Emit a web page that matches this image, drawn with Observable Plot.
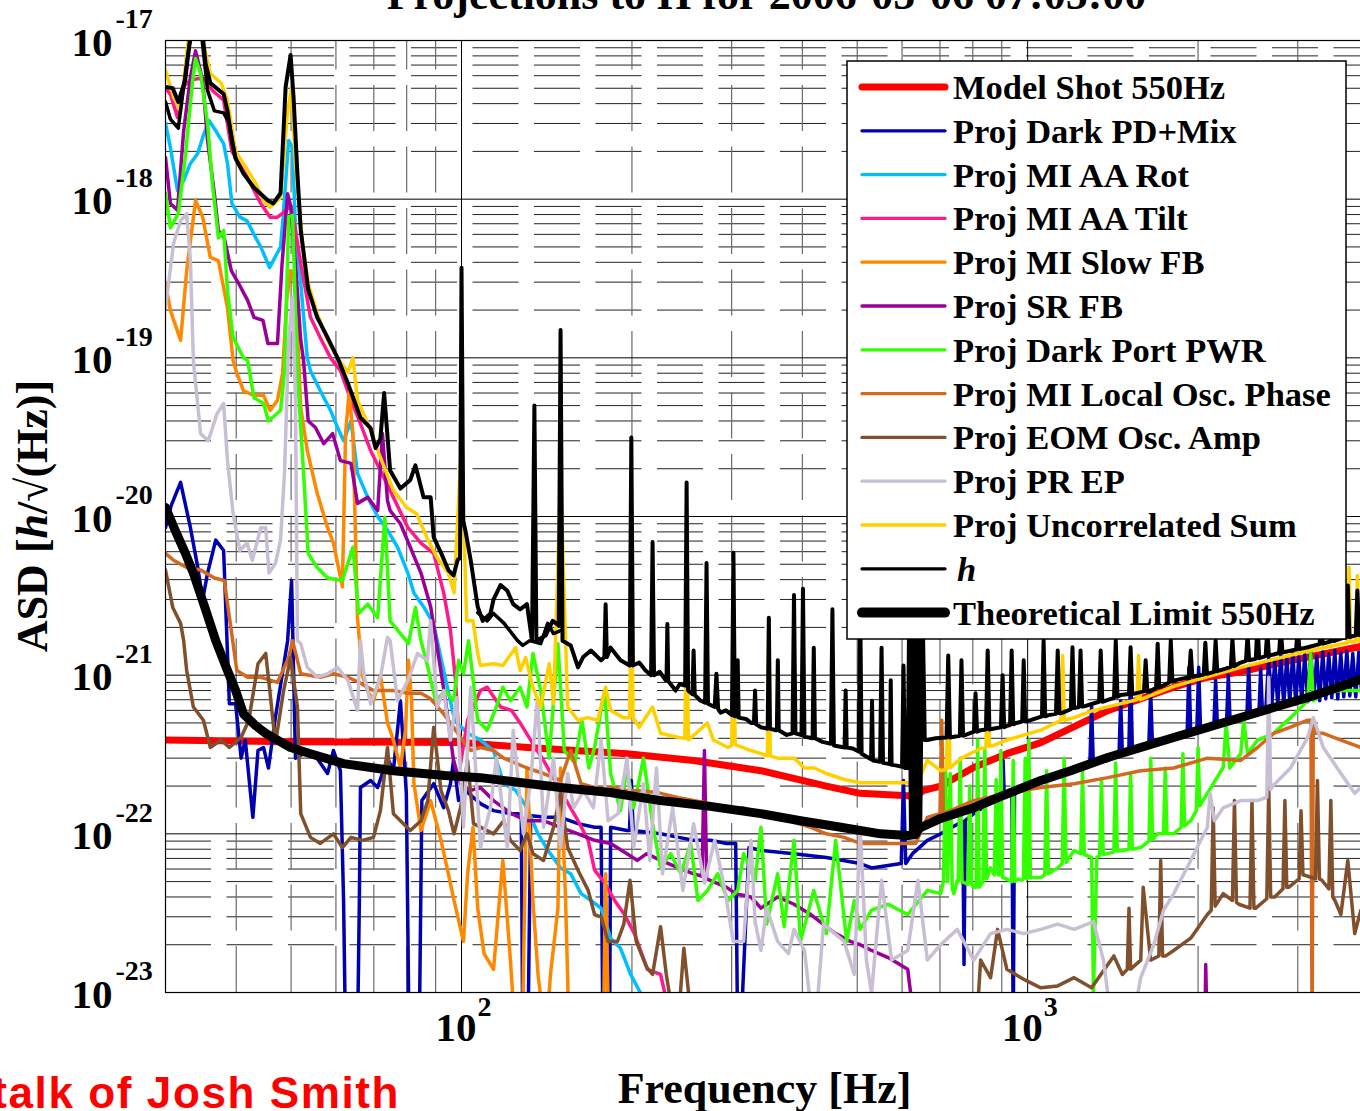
<!DOCTYPE html>
<html>
<head>
<meta charset="utf-8">
<script src="https://cdn.jsdelivr.net/npm/d3@7"></script>
<script src="https://cdn.jsdelivr.net/npm/@observablehq/plot@0.6"></script>
<style>
  html, body { margin: 0; padding: 0; background: #fff; overflow: hidden; }
  #chart svg { display: block; max-width: none; }
</style>
</head>
<body>
<div id="chart"></div>
<script>
// ---- Amplitude spectral densities, [frequency in Hz, ASD in h/sqrt(Hz)] ----

const modelShot = [[30,3.9e-22],[52,3.8e-22],[100,3.76e-22],[131,3.5e-22],[196,3.2e-22],[257,2.9e-22],[338,2.5e-22],[441,2.0e-22],[506,1.8e-22],[614,1.74e-22],[634,1.72e-22],[653,1.87e-22],[702,2.0e-22],[803,2.62e-22],[919,3.2e-22],[1055,3.76e-22],[1208,4.74e-22],[1385,5.98e-22],[1584,7.1e-22],[1811,8.4e-22],[2077,9.7e-22],[2379,1.05e-21],[2720,1.17e-21],[3124,1.3e-21],[3575,1.43e-21],[4000,1.55e-21]];

const darkPdMix = [[30,8.5e-21],[30.7,1.17e-20],[31.9,1.64e-20],[33.2,8.5e-21],[34.2,4.8e-21],[34.9,3.0e-21],[35.6,4.4e-21],[36.8,7.1e-21],[38.0,6.1e-21],[38.9,6.6e-22],[39.9,6.6e-22],[40.8,3.0e-22],[41.5,3.9e-22],[42.8,1.27e-22],[43.7,3.35e-22],[44.7,3.5e-22],[45.6,2.6e-22],[46.9,5.4e-22],[49.3,1.65e-21],[50.1,3.95e-21],[50.9,3.0e-22],[52.6,3.2e-22],[55.2,3.1e-22],[58.0,2.4e-22],[59.4,3.35e-22],[61.1,2.5e-22],[61.9,3.8e-23],[62.4,5e-24],[65.5,5e-24],[66.0,3.8e-23],[66.3,1.96e-22],[69.1,2.17e-22],[71.1,1.96e-22],[74.0,3.0e-22],[75.8,2.5e-22],[78.0,6.9e-22],[79.9,1.79e-22],[80.8,5e-24],[84.2,5e-24],[85.1,1.62e-22],[89.3,2.07e-22],[93.0,1.46e-22],[95.6,2.07e-22],[96.8,2.9e-22],[98.8,1.62e-22],[101.7,1.87e-22],[108,1.55e-22],[113.9,1.4e-22],[122.5,1.34e-22],[127.5,1.34e-22],[128.3,5e-24],[131,5e-24],[132.5,1.3e-22],[141.3,1.27e-22],[149.6,1.27e-22],[160.6,1.16e-22],[171.8,1.1e-22],[176.4,1.1e-22],[177.8,5e-24],[182.6,5e-24],[183.4,1.1e-22],[196,1.05e-22],[198,1.05e-22],[199.5,2.17e-22],[201,1.05e-22],[224.7,1.0e-22],[241.8,9.5e-23],[257,9.1e-23],[275,9.1e-23],[294,8.7e-23],[305,8.7e-23],[307.5,5e-24],[311,5e-24],[322,8.2e-23],[338,7.85e-23],[386.6,7.5e-23],[441,7.1e-23],[506,6.5e-23],[530,6.1e-23],[598,6.5e-23],[603.5,2.17e-22],[609,6.5e-23],[626,7.5e-23],[665,9.1e-23],[702,1.0e-22],[768,1.2e-22],[772,1.5e-23],[776,1.21e-22],[803,1.34e-22],[897,1.74e-22],[901,1.75e-22],[905,2.9e-22],[909,1.76e-22],[938,1.8e-22],[943,5e-24],[948,1.82e-22],[1055,2.17e-22],[1208,2.62e-22],[1288,2.75e-22],[1297,6.4e-22],[1306,2.78e-22],[1385,2.9e-22],[1450,3.1e-22],[1460,6.9e-22],[1470,3.15e-22],[1509,3.3e-22],[1520,1.07e-21],[1531,3.35e-22],[1584,3.5e-22],[1637,3.6e-22],[1649,8.0e-22],[1661,3.65e-22],[1811,4.05e-22],[1913,4.3e-22],[1927,1.12e-21],[1941,4.35e-22],[1990,4.5e-22],[2005,1.12e-21],[2020,4.55e-22],[2077,4.7e-22],[2133,4.85e-22],[2148,9.3e-22],[2163,4.9e-22],[2246,5.1e-22],[2262,1.0e-21],[2278,5.15e-22],[2379,5.4e-22],[2440,5.6e-22],[2457,1.15e-21],[2474,5.65e-22],[2562,5.8e-22],[2580,1.1e-21],[2598,5.9e-22],[2634,6.0e-22],[2666,1.3e-21],[2699,6.3e-22],[2732,1.24e-21],[2766,6.5e-22],[2800,1.35e-21],[2834,6.4e-22],[2869,1.3e-21],[2904,6.7e-22],[2940,1.38e-21],[2976,6.6e-22],[3012,1.3e-21],[3049,6.9e-22],[3087,1.35e-21],[3124,6.8e-22],[3163,1.42e-21],[3201,7.0e-22],[3241,1.33e-21],[3280,6.9e-22],[3321,1.4e-21],[3362,7.1e-22],[3403,1.36e-21],[3445,7.2e-22],[3487,1.43e-21],[3530,7.1e-22],[3573,1.38e-21],[3617,7.3e-22],[3662,1.42e-21],[3707,7.4e-22],[3752,1.37e-21],[3798,7.3e-22],[3845,1.4e-21],[3892,7.5e-22],[3940,1.38e-21],[3988,7.6e-22],[4000,7.6e-22]];

const miAaRot = [[30,3.0e-18],[30.6,2.12e-18],[31.5,1.13e-18],[32.3,1.31e-18],[33.2,1.68e-18],[34.2,1.94e-18],[34.9,2.45e-18],[35.8,3.13e-18],[36.8,2.7e-18],[38.0,2.24e-18],[38.6,1.68e-18],[39.3,9.4e-19],[40.6,7.7e-19],[41.8,7.3e-19],[43.3,5.7e-19],[44.2,5.0e-19],[45.8,3.7e-19],[46.5,4.1e-19],[47.9,5.0e-19],[48.4,7.7e-19],[49.5,2.34e-18],[50.3,2.12e-18],[50.9,6.35e-19],[52.0,2.94e-19],[53.4,1.0e-19],[54.1,8.3e-20],[56.3,6.2e-20],[58.7,4.66e-20],[60.4,3.64e-20],[61.9,3.0e-20],[63.8,4.0e-20],[65.5,1.87e-20],[68.3,1.32e-20],[71.1,1.0e-20],[74.0,8.2e-21],[77.1,6.4e-21],[80.4,4.4e-21],[82.4,3.3e-21],[85.7,2.7e-21],[89.3,2.1e-21],[93.0,1.07e-21],[97.2,5.2e-22],[102.5,4.3e-22],[108,3.9e-22],[113.9,3.35e-22],[118.7,2.07e-22],[124.6,1.88e-22],[130.5,1.46e-22],[136.5,1.0e-22],[142.2,7.85e-23],[149.6,6.1e-23],[155.9,5.6e-23],[162.6,4.2e-23],[169.3,3.8e-23],[176.4,3.4e-23],[183.4,2.2e-23],[190.9,1.9e-23],[198.9,1.3e-23],[207.2,9.9e-24],[215,7.7e-24]];

const miAaTilt = [[30,5.0e-18],[30.6,4.6e-18],[31.5,3.27e-18],[32.4,5.2e-18],[33.2,5.6e-18],[34.2,5.75e-18],[35.1,5.75e-18],[36.3,4.85e-18],[38.0,4.2e-18],[39.3,2.0e-18],[41.5,1.45e-18],[44.2,9.4e-19],[45.9,7.7e-19],[47.3,7.7e-19],[48.4,8.2e-19],[49.9,9.1e-19],[50.9,6.35e-19],[52.0,3.93e-19],[54.1,1.8e-19],[56.3,1.34e-19],[58.7,1.0e-19],[61.1,8.3e-20],[63.8,5.4e-20],[66.3,3.85e-20],[69.1,2.6e-20],[71.9,1.95e-20],[75.8,1.32e-20],[80.4,8.5e-21],[84.8,6.8e-21],[89.3,5.85e-21],[93.0,3.3e-21],[95.6,1.91e-21],[97.6,9.25e-22],[99.6,2.77e-22],[102.5,5.2e-22],[108,8.0e-22],[111,8.4e-22],[117.2,6.3e-22],[122.5,6.0e-22],[126.9,5.0e-22],[132.5,3.9e-22],[139.6,2.9e-22],[149.6,1.87e-22],[160.6,1.21e-22],[167.4,9.1e-23],[171.8,5.9e-23],[179,4.9e-23],[186.4,3.8e-23],[194,3.1e-23],[202,2.35e-23],[213,1.4e-23],[224.7,1.3e-23],[230,9e-24]];

const miSlowFb = [[30,2.94e-19],[30.6,1.99e-19],[31.9,1.29e-19],[32.7,3.55e-19],[33.9,9.8e-19],[34.9,7.7e-19],[36.0,4.29e-19],[37.2,4.1e-19],[38.6,2.07e-19],[39.5,9.6e-20],[40.1,8.0e-20],[41.2,6.2e-20],[42.9,5.8e-20],[44.7,5.8e-20],[45.9,4.66e-20],[47.3,5.4e-20],[48.3,8.0e-20],[49.1,2.3e-19],[49.9,3.55e-19],[50.5,3.4e-19],[51.3,1.49e-19],[52.0,4.86e-20],[53.4,2.6e-20],[55.6,1.4e-20],[58.0,8.5e-21],[59.4,6.8e-21],[61.6,3.6e-21],[62.4,3.33e-20],[63.3,6.05e-20],[64.3,3.33e-20],[65.5,2.31e-21],[66.8,1.0e-21],[68.2,8.0e-22],[69.9,6.9e-22],[71.9,1.0e-21],[74.0,5.0e-22],[75.8,3.9e-22],[78.0,2.6e-22],[79.6,4.5e-22],[80.6,1.24e-21],[81.6,6.9e-22],[82.4,2.07e-22],[84.8,1.05e-22],[88.2,1.62e-22],[92.0,9.1e-23],[94.8,5.6e-23],[97.0,3.8e-23],[100.8,2.1e-23],[102.5,5.6e-23],[104.8,1.1e-22],[106.8,3.4e-23],[109.6,1.76e-23],[113.9,1.4e-23],[118.3,6.8e-23],[122,1.6e-23],[124.6,5e-24],[128,5e-24],[130.5,2.6e-22],[133.7,3.8e-23],[136.5,1.3e-23],[140.8,5e-24],[143.6,1.3e-23],[148,3.4e-23],[149.6,2.6e-22],[152.7,3.8e-23],[155,5e-24],[178,5e-24],[179.7,5.6e-23],[182,5e-24]];

const srFb = [[30,1.83e-18],[30.6,9.4e-19],[31.5,8.5e-19],[32.3,2.7e-18],[33.2,5.85e-18],[33.9,8.6e-18],[34.9,5.6e-18],[35.6,2.34e-18],[36.6,1.08e-18],[37.2,6.35e-19],[38.1,5.7e-19],[39.2,3.55e-19],[40.4,2.94e-19],[41.9,2.3e-19],[43.0,1.8e-19],[44.6,1.72e-19],[45.5,1.23e-19],[47.3,1.23e-19],[48.2,3.93e-19],[49.3,1.08e-18],[49.9,9.1e-19],[50.9,3.93e-19],[52.0,1.29e-19],[52.6,9.6e-20],[53.6,4.0e-20],[55.2,3.64e-20],[57.1,2.88e-20],[59.2,3.33e-20],[61.1,2.25e-20],[63.8,2.16e-20],[65.5,1.21e-20],[68.3,1.32e-20],[71.1,1.09e-20],[72.5,3.33e-20],[74.0,1.26e-20],[74.8,1.09e-20],[78.0,9.0e-21],[81.2,6.4e-21],[84.8,4.4e-21],[88.2,2.7e-21],[90.6,1.49e-21],[93.7,6.9e-22],[96.8,2.9e-22],[99.6,2.07e-22],[103.8,1.88e-22],[108,1.96e-22],[113.9,1.62e-22],[122.5,1.34e-22],[130.5,1.21e-22],[139.6,1.21e-22],[149.6,1.1e-22],[160.6,1.0e-22],[171.8,9.1e-23],[183.4,8.7e-23],[196,7.5e-23],[204.4,6.8e-23],[212.4,7.5e-23],[224.7,6.8e-23],[241.8,6.1e-23],[257,5.6e-23],[266,5.4e-23],[268.6,3.35e-22],[271,5.2e-23],[294,4.6e-23],[305,4.2e-23],[324.5,4.0e-23],[338,3.4e-23],[361.7,4.0e-23],[386.6,3.6e-23],[414,3.1e-23],[441,2.6e-23],[458,2.35e-23],[486,2.1e-23],[506,2.0e-23],[530,1.84e-23],[567,1.66e-23],[614,1.4e-23],[636,5e-24],[2055,5e-24],[2063,1.5e-23],[2077,5e-24]];

const darkPortPwr = [[30,1.09e-18],[30.6,6.6e-19],[31.6,8.1e-19],[32.5,1.83e-18],[33.5,5.6e-18],[33.9,7.7e-18],[34.6,6.2e-18],[35.6,3.0e-18],[36.3,1.26e-18],[37.2,5.7e-19],[38.0,6.35e-19],[38.6,2.65e-19],[39.5,1.34e-19],[41.2,1.0e-19],[41.9,9.6e-20],[43.0,5.6e-20],[44.7,5.15e-20],[45.6,4.0e-20],[47.9,4.66e-20],[48.7,8.3e-20],[49.5,7.7e-19],[50.3,7.9e-19],[51.3,8.0e-20],[52.6,1.87e-20],[53.6,5.85e-21],[55.6,4.77e-21],[58.0,4.1e-21],[61.6,3.95e-21],[64.3,6.4e-21],[65.8,2.45e-21],[68.3,2.8e-21],[71.1,2.3e-21],[73.2,9.9e-21],[74.8,2.2e-21],[78.0,1.83e-21],[80.6,1.58e-21],[82.9,2.67e-21],[84.8,1.65e-21],[87.2,1.12e-21],[90.0,6.9e-22],[93.7,8.0e-22],[96.8,6.9e-22],[98.8,1.24e-21],[100.8,1.02e-21],[102.9,1.65e-21],[106.8,5.2e-22],[111,4.5e-22],[115.2,6.3e-22],[118.3,8.4e-22],[122,6.9e-22],[126.9,8.4e-22],[130.5,6.3e-22],[133.7,1.37e-21],[138,8.0e-22],[142.8,3.0e-22],[148,1.58e-21],[151.9,3.35e-22],[158.5,2.8e-22],[163.2,5.2e-22],[167.9,2.6e-22],[171.8,3.5e-22],[178.9,8.0e-22],[183.4,2.4e-22],[190.9,1.4e-22],[196,2.6e-22],[201.4,1.46e-22],[209.6,3.0e-22],[217.5,1.16e-22],[224.7,6.1e-23],[234,7.5e-23],[244,5.6e-23],[254,8.7e-23],[261.6,3.8e-23],[272,4.4e-23],[283.5,5.6e-23],[295.6,3.8e-23],[307.5,4.4e-23],[315,7.5e-23],[330,5.1e-23],[338,1.1e-22],[346,2.7e-23],[361.7,5.6e-23],[371.5,2.6e-23],[386.6,9.1e-23],[397,2.1e-23],[419,4.4e-23],[441,2.35e-23],[458,9.1e-23],[479,2.1e-23],[494,3.8e-23],[506,2.5e-23],[530,3.3e-23],[567,3.6e-23],[614,3.1e-23],[665,4.4e-23],[702,4.2e-23],[710,5e-23],[716,2.5e-22],[722,5e-23],[730,2.4e-22],[736,4.5e-23],[741,4.2e-23],[751,5.1e-23],[754,5e-23],[760,3.0e-22],[766,5e-23],[784,4.8e-23],[790,2.0e-22],[796,4.8e-23],[803,4.6e-23],[811,4.6e-23],[816,3.9e-22],[821,4.6e-23],[834,5e-23],[840,3.5e-22],[846,5.2e-23],[860,6.1e-23],[873,5.5e-23],[880,2.2e-22],[887,5.5e-23],[891,5.5e-23],[897,3.35e-22],[903,5.3e-23],[907,5.3e-23],[937,5.0e-23],[943,2.9e-22],[949,5.0e-23],[960,5.2e-23],[977,5.1e-23],[983,5.2e-23],[990,3.0e-22],[997,5.2e-23],[999,5.3e-23],[1005,3.9e-22],[1011,5.3e-23],[1033,5.3e-23],[1055,5.3e-23],[1072,5.5e-23],[1080,2.5e-22],[1088,5.6e-23],[1130,6.1e-23],[1151,6.5e-23],[1160,3.0e-22],[1169,6.6e-23],[1208,7.85e-23],[1241,7.5e-23],[1250,2.5e-22],[1259,7.4e-23],[1297,7.1e-23],[1307,1.0e-23],[1325,7.1e-23],[1340,7.3e-23],[1350,2.2e-22],[1360,7.4e-23],[1385,7.5e-23],[1420,7.7e-23],[1430,2.8e-22],[1440,7.8e-23],[1470,7.85e-23],[1510,8.0e-23],[1520,2.4e-22],[1530,8.0e-23],[1584,8.2e-23],[1638,9.0e-23],[1650,3.0e-22],[1662,9.2e-23],[1697,1.0e-22],[1738,1.0e-22],[1750,2.6e-22],[1762,1.0e-22],[1811,1.0e-22],[1867,1.1e-22],[1880,3.2e-22],[1893,1.12e-22],[1941,1.21e-22],[1986,1.4e-22],[2000,3.5e-22],[2014,1.5e-22],[2077,1.8e-22],[2215,2.62e-22],[2242,5.0e-22],[2275,2.6e-22],[2379,3.2e-22],[2408,5.2e-22],[2447,3.2e-22],[2547,3.9e-22],[2720,4.3e-22],[2913,5.4e-22],[3124,6.9e-22],[3163,1.37e-21],[3196,6.9e-22],[3328,7.7e-22],[3575,8.0e-22],[4000,8.0e-22]];

const miLocalOscPhase = [[30,5.85e-21],[31.0,5.3e-21],[32.7,4.77e-21],[34.6,4.6e-21],[36.6,4.1e-21],[38.1,3.95e-21],[39.2,1.91e-21],[40.1,1.07e-21],[41.9,9.7e-22],[44.2,9.7e-22],[47.3,9.0e-22],[49.5,1.29e-21],[50.3,1.65e-21],[52.0,1.02e-21],[56.3,9.7e-22],[59.4,1.02e-21],[63.0,9.7e-22],[66.3,8.9e-22],[69.9,8.0e-22],[75.8,8.0e-22],[80.4,7.7e-22],[84.8,7.7e-22],[88.2,7.1e-22],[93.0,5.7e-22],[96.8,4.7e-22],[99.6,4.05e-22],[103.8,3.35e-22],[108,3.5e-22],[113.9,3.35e-22],[118.7,3.0e-22],[130.5,2.6e-22],[139.6,2.4e-22],[149.6,2.17e-22],[155.9,3.35e-22],[162.6,2.07e-22],[171.8,1.96e-22],[183.4,1.96e-22],[196,1.87e-22],[209.6,1.87e-22],[224.7,1.8e-22],[241.8,1.69e-22],[257,1.62e-22],[275,1.55e-22],[294,1.4e-22],[314,1.46e-22],[338,1.34e-22],[361.7,1.27e-22],[386.6,1.18e-22],[414,1.1e-22],[441,1.0e-22],[474,9.5e-23],[506,8.7e-23],[530,8.7e-23],[614,8.7e-23],[634,8.7e-23],[665,1.27e-22],[700,1.34e-22],[705,5.2e-22],[710,1.34e-22],[803,1.62e-22],[919,1.8e-22],[1055,1.96e-22],[1208,2.07e-22],[1385,2.26e-22],[1584,2.5e-22],[1811,2.6e-22],[2077,3.0e-22],[2379,2.9e-22],[2547,3.5e-22],[2720,4.3e-22],[2913,4.7e-22],[3124,5.2e-22],[3165,5.2e-22],[3180,5e-24],[3195,5.0e-22],[3228,4.3e-22],[3328,4.3e-22],[3575,3.9e-22],[3877,3.5e-22],[4000,3.5e-22]];

const eomOscAmp = [[30,4.6e-21],[30.9,2.67e-21],[31.9,2.12e-21],[32.3,1.65e-21],[32.7,1.07e-21],[33.6,6.3e-22],[35.0,5.2e-22],[36.0,3.5e-22],[37.6,3.9e-22],[38.9,3.5e-22],[40.8,4.05e-22],[42.1,5.2e-22],[43.7,1.18e-21],[45.1,1.37e-21],[45.9,7.7e-22],[46.9,3.7e-22],[48.5,8.0e-22],[49.9,1.29e-21],[51.3,6.3e-22],[52.0,1.34e-22],[54.1,9.5e-23],[56.3,8.7e-23],[59.4,1.0e-22],[61.6,8.2e-23],[63.8,9.5e-23],[66.8,9.1e-23],[69.9,9.5e-23],[71.9,1.4e-22],[74.0,3.5e-22],[75.8,1.34e-22],[78.0,1.21e-22],[81.2,1.05e-22],[84.8,1.21e-22],[87.2,1.62e-22],[89.3,4.7e-22],[92.0,1.87e-22],[94.8,1.4e-22],[97.0,1.0e-22],[99.6,1.46e-22],[102.5,2.9e-22],[105,1.16e-22],[113.9,1.0e-22],[118.7,1.21e-22],[122,9.1e-23],[126.9,7.85e-23],[130.5,1.0e-22],[133.8,7.5e-23],[139.6,6.8e-23],[145.4,1.1e-22],[149.6,1.8e-22],[154,8.2e-23],[160.6,5.9e-23],[167.4,4.4e-23],[171.8,3.1e-23],[176.4,3.0e-23],[181.5,2.1e-23],[188.6,2.1e-23],[193.5,2.7e-23],[198.4,5.1e-23],[203.5,2.1e-23],[212.4,1.44e-23],[217.5,1.3e-23],[224.7,2.6e-23],[230,1.3e-23],[240,5e-24],[247,1.9e-23],[257,5e-24],[809,5e-24],[826,1.6e-23],[860,1.24e-23],[885,2.5e-23],[919,1.4e-23],[989,1.2e-23],[1055,1.07e-23],[1130,1.1e-23],[1208,1.24e-23],[1297,1.07e-23],[1420,1.7e-23],[1470,1.3e-23],[1500,1.4e-23],[1510,3.4e-23],[1520,1.4e-23],[1584,1.6e-23],[1600,4.6e-23],[1649,1.6e-23],[1705,1.7e-23],[1718,6.8e-23],[1731,1.7e-23],[1754,1.7e-23],[1811,1.84e-23],[1941,2.2e-23],[2077,3.1e-23],[2110,3.3e-23],[2127,1.46e-22],[2144,3.5e-23],[2215,4.2e-23],[2300,3.8e-23],[2319,1.62e-22],[2338,3.7e-23],[2360,3.6e-23],[2470,3.4e-23],[2490,1.62e-22],[2510,3.4e-23],[2529,3.4e-23],[2645,3.9e-23],[2666,1.96e-22],[2687,4.0e-23],[2731,4.0e-23],[2825,4.5e-23],[2847,1.62e-22],[2869,4.6e-23],[2890,4.6e-23],[3016,5.2e-23],[3040,1.4e-22],[3064,5.5e-23],[3080,5.5e-23],[3224,5.2e-23],[3250,2.17e-22],[3276,5.2e-23],[3310,5.1e-23],[3405,4.5e-23],[3432,1.62e-22],[3459,4.0e-23],[3490,3.8e-23],[3575,3.1e-23],[3677,6.8e-23],[3782,2.35e-23],[3877,3.3e-23],[4000,3.5e-23]];

const prEp = [[30,2.07e-19],[31.0,5.25e-19],[31.9,7.3e-19],[32.7,8.1e-19],[33.2,4.1e-19],[33.6,9.6e-20],[34.6,3.33e-20],[35.7,3.0e-20],[37.0,4.45e-20],[38.0,5.15e-20],[38.6,2.25e-20],[39.5,1.04e-20],[40.6,6.1e-21],[41.8,6.8e-21],[42.7,5.3e-21],[44.2,8.5e-21],[45.1,8.5e-21],[45.7,4.4e-21],[46.9,5.05e-21],[47.9,7.1e-21],[48.7,1.95e-20],[49.5,1.29e-19],[50.3,2.4e-19],[50.9,5.4e-20],[51.3,1.65e-21],[52.0,1.58e-21],[53.4,1.12e-21],[55.6,9.7e-22],[58.0,1.02e-21],[60.4,1.12e-21],[63.0,9.25e-22],[65.5,6.0e-22],[66.3,1.65e-21],[67.2,1.02e-21],[69.1,6.6e-22],[71.9,9.7e-22],[74.0,1.73e-21],[74.8,1.65e-21],[77.1,6.9e-22],[80.4,9.25e-22],[83.6,1.37e-21],[87.0,1.24e-21],[88.2,2.2e-21],[90.6,6.3e-22],[93.0,8.0e-22],[95.6,3.9e-22],[98.0,7.2e-22],[100.8,1.1e-22],[103.8,8.4e-22],[108,8.2e-23],[112.5,1.46e-22],[115.2,3.0e-22],[120.5,8.2e-23],[123.4,4.5e-22],[128.6,1.0e-22],[132.5,2.17e-22],[136.2,7.2e-22],[139.6,1.1e-22],[145.4,3.0e-22],[149.6,8.2e-23],[154,2.4e-22],[157.8,1.46e-22],[164.3,1.87e-22],[171,1.46e-22],[176.4,3.9e-22],[181.5,1.21e-22],[189,1.34e-22],[196,3.0e-22],[201.4,8.2e-23],[209.6,2.07e-22],[215,6.8e-23],[221,2.6e-22],[226.5,5.6e-23],[236,1.46e-22],[246,4.4e-23],[257,1.16e-22],[268.6,4.9e-23],[280,9.1e-23],[292,4.4e-23],[302,2.1e-23],[315,2.1e-23],[324.5,9.1e-23],[330,2.8e-23],[338,1.84e-23],[346,3.4e-23],[361.7,2.1e-23],[378,1.76e-23],[386.6,2.5e-23],[403.5,1.84e-23],[420,5e-24],[436,2.7e-23],[474,2.1e-23],[494,1.3e-23],[506,1.1e-22],[519,1.6e-23],[530,9.9e-24],[552,5.1e-23],[575,1.6e-23],[614,1.84e-23],[640,5.1e-23],[665,1.6e-23],[702,2.0e-23],[751,2.5e-23],[803,1.6e-23],[860,2.35e-23],[919,2.5e-23],[984,2.35e-23],[1055,2.5e-23],[1130,2.7e-23],[1208,2.5e-23],[1307,2.8e-23],[1361,1.6e-23],[1420,5e-24],[1510,5e-24],[1584,1.24e-23],[1670,2.0e-23],[1738,3.3e-23],[1811,4.2e-23],[1941,6.8e-23],[2077,1.1e-22],[2100,1.8e-22],[2137,1.21e-22],[2215,1.46e-22],[2379,1.62e-22],[2547,1.62e-22],[2645,1.7e-22],[2666,9.7e-22],[2687,1.9e-22],[2710,2.0e-22],[2913,2.6e-22],[3124,4.05e-22],[3196,5.4e-22],[3328,3.5e-22],[3575,2.4e-22],[3782,1.8e-22],[3877,1.96e-22],[4000,1.87e-22]];

const uncorrelatedSum = [[30,6.5e-18],[31.0,4.4e-18],[31.9,3.6e-18],[32.9,1.0e-17],[34.0,1.34e-17],[35.0,9.6e-18],[36.0,6.2e-18],[37.6,5.4e-18],[38.6,4.2e-18],[39.9,2.0e-18],[41.9,1.52e-18],[43.3,1.26e-18],[44.7,9.8e-19],[45.9,8.9e-19],[47.9,1.02e-18],[49.3,3.6e-18],[50.1,5.0e-18],[50.9,1.68e-18],[52.4,5.25e-19],[53.6,2.94e-19],[55.6,1.9e-19],[58.0,1.29e-19],[60.4,1.0e-19],[63.0,8.1e-20],[64.3,1.0e-19],[65.5,5.4e-20],[68.3,3.85e-20],[71.1,2.6e-20],[75.8,1.46e-20],[80.0,1.14e-20],[83.3,1.04e-20],[86.8,7.4e-21],[90.6,5.5e-21],[94.8,4.4e-21],[97.0,3.3e-21],[100,2.88e-20],[102.1,2.2e-21],[104.8,2.2e-21],[106.8,1.37e-21],[108,1.15e-21],[113.9,1.18e-21],[118.3,1.15e-21],[124.6,1.49e-21],[126.9,1.07e-21],[129.8,1.29e-21],[133.7,8.4e-22],[138,6.3e-22],[142.8,1.18e-21],[145.4,6.6e-22],[149.6,1.69e-20],[154,6.3e-22],[160.6,5.2e-22],[167,5.4e-22],[174,5.2e-22],[179.7,8.4e-22],[183.4,6.0e-22],[193,5.4e-22],[198,5.4e-22],[199.5,3.0e-21],[201,5.4e-22],[206,4.7e-22],[217.5,6.3e-22],[224.7,4.3e-22],[241.8,4.05e-22],[248,4.0e-22],[249.8,3.0e-21],[251.6,3.9e-22],[271.8,5.0e-22],[278.6,3.9e-22],[295.6,3.5e-22],[300,3.6e-22],[302.2,1.91e-21],[304.4,3.65e-22],[324.5,3.35e-22],[338,3.2e-22],[347,3.1e-22],[349,2.3e-21],[351,3.1e-22],[361.7,3.0e-22],[386.6,3.0e-22],[403.5,2.6e-22],[420,2.6e-22],[441,2.4e-22],[474,2.2e-22],[506,2.1e-22],[530,2.1e-22],[584.5,2.1e-22],[614,2.1e-22],[634,2.0e-22],[665,2.9e-22],[702,2.5e-22],[719,2.55e-22],[724,1.33e-21],[729,2.6e-22],[764,3.0e-22],[826,3.45e-22],[844,3.5e-22],[850,1.43e-21],[856,3.55e-22],[868,3.6e-22],[919,3.9e-22],[1055,4.5e-22],[1145,5.2e-22],[1153,1.33e-21],[1161,5.2e-22],[1208,5.4e-22],[1307,6.0e-22],[1559,7.0e-22],[1570,1.33e-21],[1581,7.0e-22],[1811,8.5e-22],[2379,1.12e-21],[3124,1.42e-21],[3670,1.6e-21],[3695,4.77e-21],[3720,1.62e-21],[3798,1.63e-21],[3823,4.25e-21],[3849,1.64e-21],[4000,1.7e-21]];

const hStrain = [[30,5.1e-18],[30.9,5.0e-18],[31.6,4.1e-18],[32.5,5.6e-18],[33.2,1.08e-17],[34.0,1.44e-17],[34.9,1.08e-17],[35.3,7.2e-18],[36.0,5.4e-18],[38.0,4.6e-18],[38.6,3.6e-18],[39.3,2.3e-18],[39.9,1.8e-18],[41.2,1.45e-18],[43.0,1.18e-18],[45.5,9.8e-19],[46.5,9.4e-19],[47.9,1.09e-18],[48.9,5.1e-18],[49.9,8.1e-18],[50.5,4.4e-18],[51.3,1.45e-18],[52.0,6.4e-19],[53.6,2.7e-19],[55.6,1.8e-19],[58.0,1.34e-19],[60.4,1.0e-19],[63.0,6.9e-20],[66.3,4.2e-20],[69.1,3.6e-20],[70.5,2.7e-20],[71.9,3.1e-20],[73.0,6.0e-20],[74.8,1.95e-20],[78.0,1.5e-20],[81.2,1.7e-20],[82.9,2.1e-20],[85.7,1.32e-20],[88.2,1.32e-20],[89.3,7.4e-21],[92.0,5.9e-21],[94.8,4.6e-21],[96.8,4.25e-21],[98.4,5.3e-21],[99.4,5.5e-21],[100,3.7e-19],[100.7,9.4e-21],[101.7,8.0e-21],[103.8,5.3e-21],[106.8,2.7e-21],[109,2.2e-21],[112.5,2.45e-21],[113.9,3.0e-21],[117.2,3.7e-21],[120.5,3.4e-21],[123.4,2.8e-21],[126.9,2.6e-21],[130.5,2.8e-21],[133.2,1.65e-21],[134.5,5.0e-20],[135.6,1.65e-21],[140.8,1.78e-21],[144.9,2.2e-21],[148.5,2.06e-21],[149.6,1.5e-19],[150.8,1.65e-21],[155.9,1.54e-21],[160.6,1.12e-21],[164,1.3e-21],[169.3,1.43e-21],[176.4,1.24e-21],[178.8,1.3e-21],[179.7,2.8e-21],[180.6,1.3e-21],[183.4,1.49e-21],[190.9,1.24e-21],[198.2,1.15e-21],[199.5,3.15e-20],[200.8,1.15e-21],[206,1.2e-21],[211.4,1.07e-21],[216.2,1.0e-21],[217.5,6.9e-21],[218.8,1.0e-21],[224,1.05e-21],[229.3,9.3e-22],[230.2,9.3e-22],[231,2.1e-21],[231.8,9.2e-22],[238.9,8.0e-22],[243,8.8e-22],[248.3,8.6e-22],[249.8,1.64e-20],[251.3,8.0e-22],[255.8,7.6e-22],[257,1.43e-21],[258.2,7.5e-22],[264.4,6.9e-22],[269.3,6.7e-22],[270.9,5.1e-21],[272.5,6.6e-22],[280,6.3e-22],[282,1.02e-21],[284,6.1e-22],[286.8,5.8e-22],[293,6.0e-22],[300.4,5.6e-22],[302.2,5.9e-21],[304,5.5e-22],[306.3,5.5e-22],[307.5,1.24e-21],[308.7,5.4e-22],[318,5.3e-22],[324.5,5.0e-22],[328.5,5.0e-22],[330,8.0e-22],[331.5,4.9e-22],[338,4.7e-22],[347.4,4.6e-22],[349,2.3e-21],[350.6,4.6e-22],[359,4.5e-22],[360.6,4.5e-22],[362,1.24e-21],[363.4,4.5e-22],[375.3,4.2e-22],[384.3,4.3e-22],[386.6,3.2e-21],[388.9,4.3e-22],[398.6,4.2e-22],[401,3.5e-21],[403.4,4.1e-22],[417,4.0e-22],[419,1.49e-21],[421,4.0e-22],[434,3.8e-22],[449.3,3.7e-22],[452,2.6e-21],[454.7,3.6e-22],[475,3.5e-22],[477,8.0e-22],[479,3.5e-22],[491,3.45e-22],[503,3.3e-22],[506,3.0e-21],[509,3.2e-22],[529,2.95e-22],[531,6.9e-22],[533,2.9e-22],[548.7,2.85e-22],[552,1.49e-21],[555.3,2.8e-22],[571,2.75e-22],[573,9.3e-22],[575,2.72e-22],[584.5,2.7e-22],[600,2.65e-22],[603.5,1.15e-21],[607,2.6e-22],[614,2.6e-22],[618,3.0e-21],[622,1.05e-22],[626,3.0e-21],[630,1.05e-22],[634,3.0e-21],[638,1.05e-22],[642,3.0e-21],[646,1.05e-22],[652,3.0e-21],[658,3.9e-22],[665,3.9e-22],[688,4.0e-22],[719,4.05e-22],[724,1.33e-21],[729,4.05e-22],[759,4.15e-22],[764,1.24e-21],[769,4.15e-22],[777,4.2e-22],[804,4.4e-22],[809,7.7e-22],[814,4.4e-22],[826,4.5e-22],[844,4.55e-22],[850,1.43e-21],[856,4.55e-22],[868,4.6e-22],[897,4.7e-22],[903,1.0e-21],[909,4.7e-22],[920,4.8e-22],[931,4.85e-22],[937,1.43e-21],[943,4.9e-22],[955,5.0e-22],[978,5.1e-22],[984,1.24e-21],[990,5.1e-22],[1012,5.2e-22],[1060,5.5e-22],[1067,1.65e-21],[1074,5.5e-22],[1089,5.6e-22],[1122,5.7e-22],[1130,1.43e-21],[1138,5.75e-22],[1153,5.8e-22],[1192,6.1e-22],[1200,1.5e-21],[1208,6.2e-22],[1232,6.3e-22],[1240,1.43e-21],[1248,6.35e-22],[1266,6.4e-22],[1337,6.8e-22],[1346,1.43e-21],[1355,6.8e-22],[1374,6.9e-22],[1421,7.2e-22],[1431,1.65e-21],[1441,7.3e-22],[1460,7.5e-22],[1510,7.6e-22],[1520,1.5e-21],[1530,7.6e-22],[1605,7.9e-22],[1616,1.24e-21],[1627,7.9e-22],[1649,8.0e-22],[1686,8.3e-22],[1697,1.58e-21],[1708,8.4e-22],[1725,8.5e-22],[1778,9.0e-22],[1790,1.65e-21],[1802,9.1e-22],[1826,9.3e-22],[1928,9.7e-22],[1941,1.43e-21],[1954,9.8e-22],[2022,1.0e-21],[2046,1.01e-21],[2060,1.6e-21],[2074,1.02e-21],[2134,1.05e-21],[2148,1.65e-21],[2162,1.06e-21],[2238,1.1e-21],[2285,1.13e-21],[2300,1.7e-21],[2315,1.14e-21],[2379,1.2e-21],[2430,1.23e-21],[2446,1.8e-21],[2462,1.24e-21],[2530,1.27e-21],[2547,2.2e-21],[2564,1.28e-21],[2632,1.32e-21],[2650,1.9e-21],[2668,1.33e-21],[2720,1.35e-21],[2781,1.38e-21],[2800,2.0e-21],[2819,1.39e-21],[2980,1.45e-21],[3000,2.0e-21],[3020,1.46e-21],[3124,1.5e-21],[3278,1.57e-21],[3300,2.1e-21],[3322,1.58e-21],[3427,1.63e-21],[3450,2.2e-21],[3473,1.64e-21],[3575,1.7e-21],[3652,1.73e-21],[3677,3.68e-21],[3702,1.74e-21],[3798,1.78e-21],[3823,3.42e-21],[3849,1.79e-21],[3933,1.85e-21],[4000,1.9e-21]];

// second h trace (same colour, no legend entry); NaN splits it into two pieces
const hStrainTrace2 = [[30,4.1e-18],[30.6,3.2e-18],[31.6,2.8e-18],[32.7,7.2e-18],[33.5,1.24e-17],[34.6,1.24e-17],[35.6,4.85e-18],[36.6,3.6e-18],[38.0,3.5e-18],[38.9,3.0e-18],[39.9,1.8e-18],[41,NaN],[106.8,2.48e-21],[111,2.2e-21],[113.9,2.45e-21],[118.9,2.12e-21],[125.6,1.65e-21],[128.3,1.54e-21],[132,1.65e-21],[138,1.58e-21],[142,2.12e-21],[145.4,1.83e-21],[149.6,1.91e-21]];

const theoreticalLimit = [[30,1.14e-20],[31.2,8.2e-21],[32.5,5.9e-21],[33.6,4.4e-21],[35.3,2.6e-21],[36.8,1.65e-21],[38.6,1.07e-21],[39.9,8.0e-22],[41.2,5.7e-22],[43.3,4.8e-22],[45.1,4.3e-22],[47.3,3.9e-22],[49.9,3.5e-22],[54.1,3.2e-22],[61.9,2.77e-22],[75.8,2.5e-22],[93.4,2.33e-22],[108,2.26e-22],[149.6,1.96e-22],[183,1.82e-22],[224.7,1.62e-22],[275,1.49e-22],[337.6,1.34e-22],[397,1.21e-22],[467.7,1.1e-22],[550,1.0e-22],[614,9.75e-23],[634,9.9e-23],[642,1.08e-22],[702,1.25e-22],[803,1.46e-22],[897,1.72e-22],[1055,2.17e-22],[1191,2.5e-22],[1385,3.03e-22],[1584,3.5e-22],[1811,4.05e-22],[2077,4.68e-22],[2379,5.41e-22],[2720,6.25e-22],[3124,7.23e-22],[3575,8.5e-22],[4000,9.8e-22]];

// ---- legend entries, in drawing order ----
const seriesNames = ["Model Shot 550Hz", "Proj Dark PD+Mix", "Proj MI AA Rot", "Proj MI AA Tilt", "Proj MI Slow FB", "Proj SR FB", "Proj Dark Port PWR", "Proj MI Local Osc. Phase", "Proj EOM Osc. Amp", "Proj PR EP", "Proj Uncorrelated Sum", "h", "Theoretical Limit 550Hz"];
const seriesData = [modelShot, darkPdMix, miAaRot, miAaTilt, miSlowFb, srFb, darkPortPwr, miLocalOscPhase, eomOscAmp, prEp, uncorrelatedSum, hStrain, theoreticalLimit];

// ---- axis tick labels ----
const yTickValues = [1e-17, 1e-18, 1e-19, 1e-20, 1e-21, 1e-22, 1e-23];
const yTickExponents = ["-17", "-18", "-19", "-20", "-21", "-22", "-23"];
const xTickValues = [100, 1000];
const xTickExponents = ["2", "3"];

const titleText = "Projections to H for 2006-05-06 07:05:00";
const xLabelText = "Frequency [Hz]";
const footerText = "talk of Josh Smith";

// ---- styling ----
const seriesColors = ["#ff0000", "#0000b0", "#00bfff", "#ff1a8c", "#ff8800", "#990099", "#33ff00", "#d2691e", "#80502d", "#c8bfd4", "#ffd000", "#000000", "#000000"];
const plotWidths = [7, 3.5, 3.5, 3.5, 3.5, 3.5, 3.5, 3.5, 3.5, 3.5, 3.5, 4, 9];
const legendWidths = [7, 3.3, 3.3, 3.3, 3.3, 3.3, 3.3, 3.3, 3.3, 3.3, 3.3, 3.3, 10];

const serif = "'Liberation Serif', 'Times New Roman', Times, serif";
const sans = "'Liberation Sans', Arial, Helvetica, sans-serif";

const W = 1380, H = 1111;
const margin = {top: 40, right: 12, bottom: 119, left: 165};
const xDomain = [30, 4000];
const yDomain = [1e-23, 1e-17];

const isDecade = v => Math.abs(Math.log10(v) - Math.round(Math.log10(v))) < 1e-6;
const yGrid = d3.scaleLog().domain(yDomain).ticks().filter(v => v > yDomain[0] * 1.001 && v < yDomain[1] * 0.999);
const xGrid = d3.scaleLog().domain(xDomain).ticks().filter(v => v > xDomain[0] * 1.001 && v < xDomain[1] * 0.999);

const bold = {fontWeight: "bold", fontFamily: serif, fill: "black"};

const lineMarks = [];
seriesData.forEach((data, i) => {
  if (seriesNames[i] === "h") {
    lineMarks.push(Plot.line(hStrainTrace2, {x: d => d[0], y: d => d[1], stroke: "#000", strokeWidth: 3.5, clip: true}));
  }
  lineMarks.push(Plot.line(data, {x: d => d[0], y: d => d[1], stroke: seriesColors[i], strokeWidth: plotWidths[i], clip: true}));
});

const chart = Plot.plot({
  width: W,
  height: H,
  marginTop: margin.top,
  marginRight: margin.right,
  marginBottom: margin.bottom,
  marginLeft: margin.left,
  style: {background: "white", maxWidth: "none"},
  x: {type: "log", domain: xDomain, axis: null},
  y: {type: "log", domain: yDomain, axis: null},
  marks: [
    // dashed minor grid, solid decade grid
    Plot.ruleY(yGrid.filter(v => !isDecade(v)), {y: d => d, x1: () => xDomain[0], x2: () => xDomain[1], stroke: "#222", strokeWidth: 1, strokeDasharray: "46,15.5"}),
    Plot.ruleX(xGrid.filter(v => !isDecade(v)), {x: d => d, y1: () => yDomain[0], y2: () => yDomain[1], stroke: "#6a6a6a", strokeWidth: 1.2, strokeDasharray: "46,15.5"}),
    Plot.ruleY(yGrid.filter(isDecade), {y: d => d, stroke: "#000", strokeWidth: 1}),
    Plot.ruleX(xGrid.filter(isDecade), {x: d => d, stroke: "#000", strokeWidth: 1}),
    ...lineMarks,
    Plot.frame({stroke: "#000", strokeWidth: 1.2}),
    // y tick labels: "10" with a raised exponent
    Plot.text(yTickValues, {y: d => d, frameAnchor: "left", text: () => "10", textAnchor: "end", dx: -53, dy: 2, fontSize: 41, ...bold}),
    Plot.text(yTickValues, {y: d => d, frameAnchor: "left", text: (d, i) => yTickExponents[i], textAnchor: "start", dx: -50, dy: -21, fontSize: 28, ...bold}),
    // x tick labels
    Plot.text(xTickValues, {x: d => d, frameAnchor: "bottom", text: () => "10", textAnchor: "end", dx: 15, dy: 48, fontSize: 41, ...bold}),
    Plot.text(xTickValues, {x: d => d, frameAnchor: "bottom", text: (d, i) => xTickExponents[i], textAnchor: "start", dx: 16, dy: 23, fontSize: 28, ...bold})
  ]
});

chart.style.maxWidth = "none";
document.getElementById("chart").appendChild(chart);

const svg = d3.select(chart);
const frameLeft = margin.left, frameRight = W - margin.right;
const frameTop = margin.top, frameBottom = H - margin.bottom;
const cx = (frameLeft + frameRight) / 2;

const textStyle = (sel, size, anchor) => sel
  .attr("font-family", serif).attr("font-weight", "bold")
  .attr("font-size", size).attr("fill", "#000")
  .attr("text-anchor", anchor);

// title (sits partly above the top of the page)
svg.append("text").call(textStyle, 44, "middle")
  .attr("x", cx).attr("y", 9).text(titleText);

// x label
svg.append("text").call(textStyle, 44, "middle")
  .attr("x", cx - 2).attr("y", 1103).text(xLabelText);

// y label with italic h
const yl = svg.append("text").call(textStyle, 44, "middle")
  .attr("transform", `translate(47,${(frameTop + frameBottom) / 2}) rotate(-90)`);
yl.append("tspan").text("ASD [");
yl.append("tspan").attr("font-style", "italic").text("h");
yl.append("tspan").text("/\u221A(Hz)]");

// red footer note
svg.append("text")
  .attr("x", 400).attr("y", 1108).attr("text-anchor", "end")
  .attr("font-family", sans).attr("font-weight", "bold").attr("font-size", 44)
  .attr("letter-spacing", "1.6px")
  .attr("fill", "#ff0000").text(footerText);

// legend box in the upper right of the axes
const lgW = 499, lgH = 578;
const lgX = frameRight - 22 - lgW, lgY = frameTop + 21;
const lg = svg.append("g");
lg.append("rect").attr("x", lgX).attr("y", lgY).attr("width", lgW).attr("height", lgH)
  .attr("fill", "#fff").attr("stroke", "#000").attr("stroke-width", 1.5);
seriesNames.forEach((name, i) => {
  const yy = lgY + 26 + i * 43.8;
  lg.append("line").attr("x1", lgX + 15).attr("x2", lgX + 98).attr("y1", yy).attr("y2", yy)
    .attr("stroke", seriesColors[i]).attr("stroke-width", legendWidths[i]).attr("stroke-linecap", "round");
  const t = lg.append("text").call(textStyle, 34.5, "start")
    .attr("x", lgX + 106).attr("y", yy + 12).text(name);
  if (name === "h") t.attr("font-style", "italic").attr("x", lgX + 110);
});
</script>
</body>
</html>
